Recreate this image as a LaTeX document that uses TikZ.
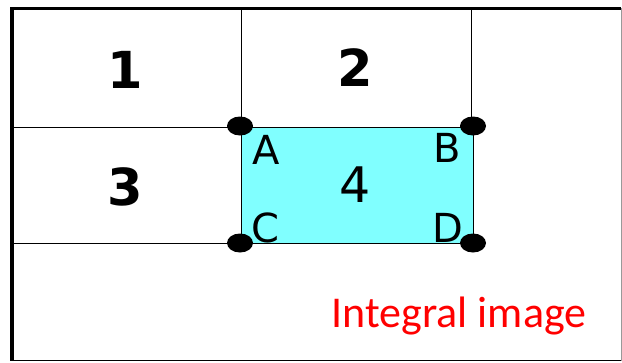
\documentclass[tikz,border=0pt]{standalone}
\usepackage{fontspec}
\usetikzlibrary{shapes.geometric}
\setmainfont{DejaVu Sans}
\newfontfamily\calib{Carlito}
\definecolor{boxcyan}{RGB}{128,255,255}
\begin{document}
\begin{tikzpicture}[x=1pt,y=-1pt,
  thinline/.style={draw=black,line width=1pt},
  dotmark/.style={ellipse,fill=black,minimum width=26pt,minimum height=19pt,inner sep=0pt},
  bignum/.style={font=\fontsize{51}{51}\selectfont\bfseries},
  letter/.style={font=\fontsize{40}{40}\selectfont}]
\useasboundingbox (0,0) rectangle (622,362);
% frame
\draw[line width=4pt] (11.5,8) -- (11.5,361);
\draw[line width=3pt] (10,8) -- (621,8);
\draw[line width=1pt] (10,360.5) -- (621,360.5);
\draw[line width=0.6pt,black!40] (621.5,8) -- (621.5,361);
% blue box
\fill[boxcyan] (241,127) rectangle (473,243);
\draw[thinline] (241,127) rectangle (473,243);
% grid lines
\coordinate (tA) at (241,8);
\coordinate (tB) at (471,8);
\coordinate (lA) at (10,127);
\coordinate (lC) at (10,243);
\coordinate (A) at (241,127);
\coordinate (B) at (471,127);
\coordinate (C) at (241,243);
\draw[thinline] (tA) -- (A);
\draw[thinline] (tB) -- (B);
\draw[thinline] (lA) -- (A);
\draw[thinline] (lC) -- (C);
% dots
\node[dotmark] (dA) at (240,126) {};
\node[dotmark] (dB) at (473,126) {};
\node[dotmark] (dC) at (240,243) {};
\node[dotmark] (dD) at (473,243) {};
% labels
\node[bignum] (n1) at (125,70) {1};
\node[bignum] (n2) at (355,68) {2};
\node[bignum] (n3) at (125,187) {3};
\node[font=\fontsize{49}{49}\selectfont] (n4) at (355,185) {4};
\node[letter] (la) at (266,150) {A};
\node[letter] (lb) at (447,148) {B};
\node[letter] (lc) at (265,228) {C};
\node[letter] (ld) at (448,228) {D};
\node[font=\calib\fontsize{44}{44}\selectfont,text=red] (ii) at (459,316) {Integral image};
\end{tikzpicture}
\end{document}
